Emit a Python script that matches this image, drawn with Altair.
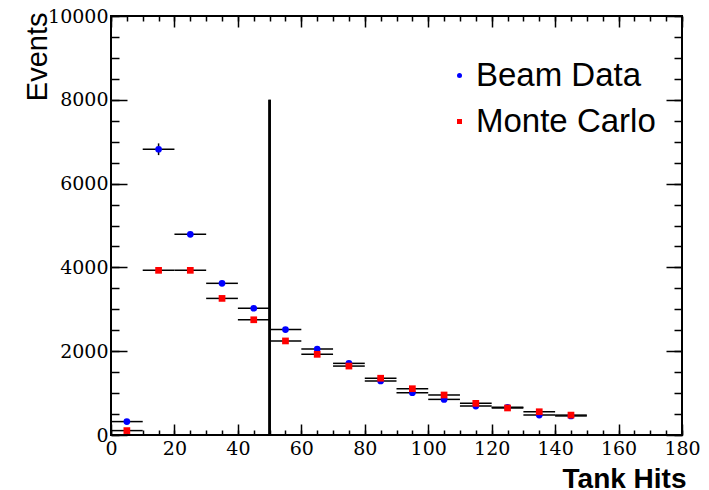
import altair as alt
import pandas as pd

# ---- data ----
bin_centers = [5, 15, 25, 35, 45, 55, 65, 75, 85, 95, 105, 115, 125, 135, 145]
beam_data = [320, 6820, 4790, 3620, 3025, 2515, 2050, 1710, 1290, 1010, 850, 690, 660, 475, 455]
monte_carlo = [105, 3930, 3930, 3260, 2750, 2245, 1925, 1645, 1355, 1105, 955, 755, 645, 555, 475]
beam_yerr = [0, 140, 0, 0, 0, 0, 0, 0, 0, 0, 0, 0, 0, 0, 0]
bin_half_width = 5
series_names = ["Beam Data", "Monte Carlo"]
series_colors = ["#0000ff", "#ff0000"]
series_shapes = ["circle", "square"]
cut_position = [50]
cut_top = [8000]
x_major = [0, 20, 40, 60, 80, 100, 120, 140, 160, 180]
x_minor = list(range(0, 181, 5))
y_major = [0, 2000, 4000, 6000, 8000, 10000]
y_minor = list(range(0, 10001, 500))

rows = []
for name, vals in zip(series_names, [beam_data, monte_carlo]):
    for i, (c, v) in enumerate(zip(bin_centers, vals)):
        err = beam_yerr[i] if name == "Beam Data" else 0
        rows.append({"series": name, "x": c, "xlo": c - bin_half_width, "xhi": c + bin_half_width,
                     "y": v, "ylo": v - err, "yhi": v + err})
df = pd.DataFrame(rows)
cut_df = pd.DataFrame({"x": cut_position, "y0": [0], "y1": cut_top})

W, H = 571, 419
xs = alt.Scale(domain=[0, 180], nice=False, zero=False)
ys = alt.Scale(domain=[0, 10000], nice=False, zero=False)

SERIF = "DejaVu Serif"
SANS = "Liberation Sans"


def tick_axis(orient, values, size, **kw):
    return alt.Axis(orient=orient, values=values, offset=-size, tickSize=size, labels=False,
                    domain=False, title=None, grid=False, ticks=True, tickColor="black",
                    tickWidth=1.5, **kw)


x_main = alt.Axis(orient="bottom", values=x_major, ticks=False, domain=False, grid=False,
                  format="d", labelFont=SERIF, labelFontSize=19, labelColor="black",
                  labelPadding=4, labelFlush=False, title="Tank Hits", titleFont=SANS,
                  titleFontSize=28, titleFontWeight="bold", titleColor="black", titleX=W + 4,
                  titleY=52, titleAlign="right", titleBaseline="alphabetic")
y_main = alt.Axis(orient="left", values=y_major, ticks=False, domain=False, grid=False,
                  format="d", labelFont=SERIF, labelFontSize=19, labelColor="black",
                  labelPadding=3, labelFlush=False, title="Events", titleFont=SANS,
                  titleFontSize=29, titleFontWeight="normal", titleColor="black", titleAngle=270,
                  titleX=-65, titleY=-4, titleAlign="right", titleBaseline="alphabetic")

# layer 1: the cut line, carries labelled axes
cut = alt.Chart(cut_df).mark_rule(color="black", strokeWidth=2.5).encode(
    x=alt.X("x:Q", scale=xs, axis=x_main),
    y=alt.Y("y0:Q", scale=ys, axis=y_main),
    y2="y1:Q",
)

# layer 2: horizontal bin-width bars, carries bottom/left major ticks
hbars = alt.Chart(df).mark_rule(color="black", strokeWidth=1.5).encode(
    x=alt.X("xlo:Q", scale=xs, axis=tick_axis("bottom", x_major, 11)),
    x2="xhi:Q",
    y=alt.Y("y:Q", scale=ys, axis=tick_axis("left", y_major, 16)),
)

# layer 3: vertical error bars, carries bottom/left minor ticks
vbars = alt.Chart(df[df["series"] == "Beam Data"]).mark_rule(color="black", strokeWidth=1.5).encode(
    x=alt.X("x:Q", scale=xs, axis=tick_axis("bottom", x_minor, 5)),
    y=alt.Y("ylo:Q", scale=ys, axis=tick_axis("left", y_minor, 8)),
    y2="yhi:Q",
)

legend = alt.Legend(orient="none", legendX=332, legendY=43, title=None, labelFont=SANS,
                    labelFontSize=33, labelColor="black", labelLimit=0, symbolSize=25,
                    labelOffset=0, rowPadding=12, padding=0, symbolStrokeWidth=0,
                    symbolOpacity=1)

# layer 4: markers, carries top/right major ticks
points = alt.Chart(df).mark_point(filled=True, size=45, opacity=1, strokeWidth=0).encode(
    x=alt.X("x:Q", scale=xs, axis=tick_axis("top", x_major, 11)),
    y=alt.Y("y:Q", scale=ys, axis=tick_axis("right", y_major, 16)),
    color=alt.Color("series:N", scale=alt.Scale(domain=series_names, range=series_colors), legend=legend),
    shape=alt.Shape("series:N", scale=alt.Scale(domain=series_names, range=series_shapes), legend=legend),
)

# layer 5: cut line again, carries top/right minor ticks
cut2 = alt.Chart(cut_df).mark_rule(color="black", strokeWidth=2.5).encode(
    x=alt.X("x:Q", scale=xs, axis=tick_axis("top", x_minor, 5)),
    y=alt.Y("y0:Q", scale=ys, axis=tick_axis("right", y_minor, 8)),
    y2="y1:Q",
)

chart = alt.layer(cut, hbars, vbars, points, cut2).resolve_axis(
    x="independent", y="independent"
).properties(
    width=W, height=H,
    autosize=alt.AutoSizeParams(type="none"),
    padding={"left": 111, "top": 16, "right": 27, "bottom": 55},
    background="white",
).configure_view(stroke="black", strokeWidth=2)

chart.save("out.html", embed_options={"renderer": "svg", "actions": False})
